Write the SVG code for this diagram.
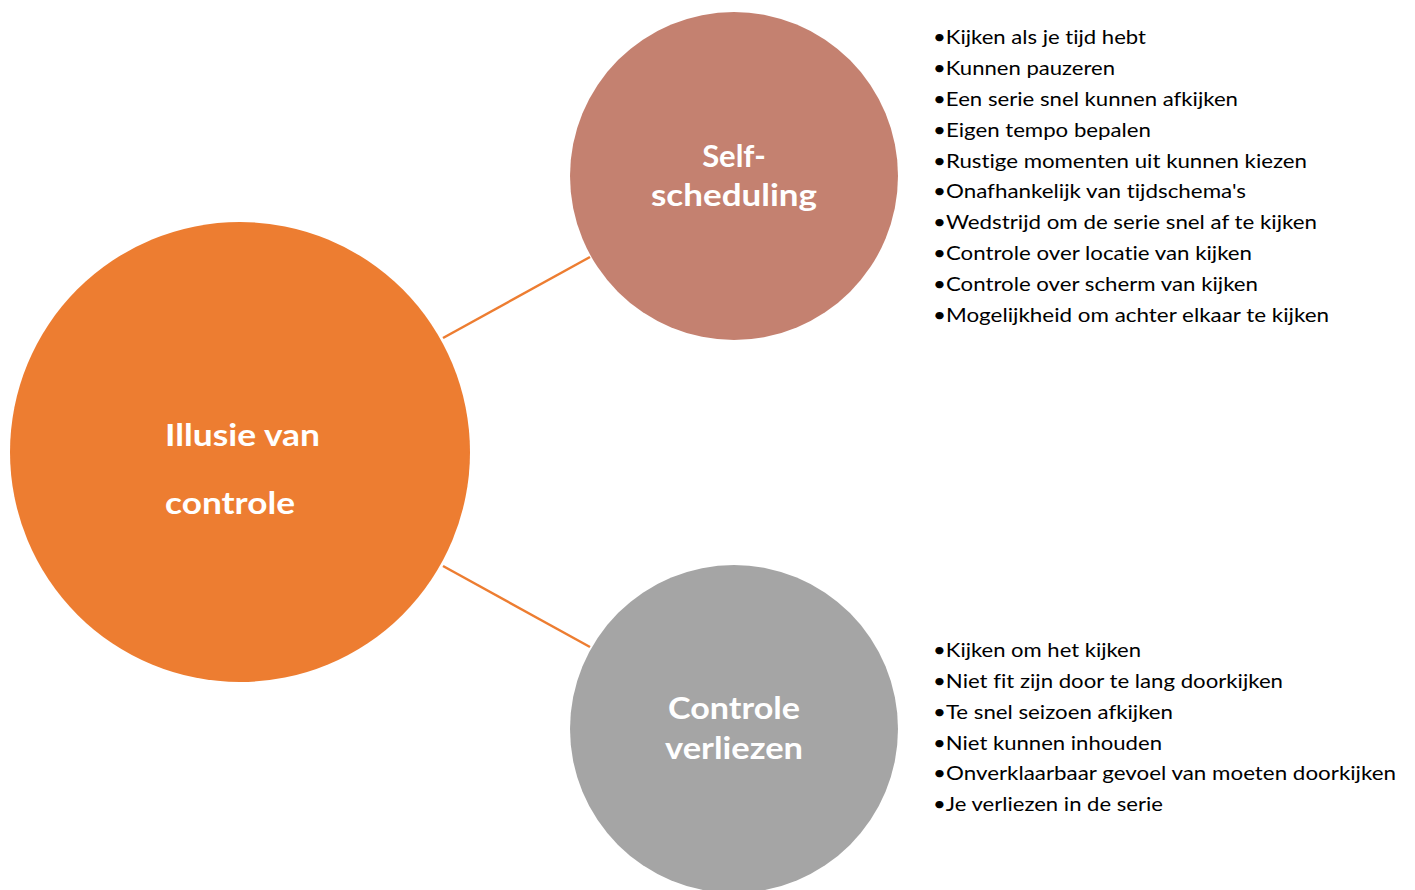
<svg xmlns="http://www.w3.org/2000/svg" width="1415" height="890" viewBox="0 0 1415 890">
<style>
.lbl{font-family:Lato,"Open Sans","Liberation Sans",sans-serif;font-weight:bold;font-size:31px;fill:#ffffff;font-variant-ligatures:none}
.item{font-family:Lato,"Open Sans","Liberation Sans",sans-serif;font-size:20px;fill:#000000;font-variant-ligatures:none}
.conn{stroke:#ED7D31;stroke-width:2.5;fill:none}
</style>
<rect width="1415" height="890" fill="#ffffff"/>
<g id="connectors">
<line class="conn" x1="443" y1="338" x2="590" y2="257"/>
<line class="conn" x1="443" y1="566" x2="590" y2="647"/>
</g>
<g id="node-illusie">
<circle cx="240" cy="452" r="230" fill="#ED7D31"/>
<text class="lbl" x="165" y="446" textLength="155" lengthAdjust="spacingAndGlyphs">Illusie van</text>
<text class="lbl" x="165" y="514" textLength="130" lengthAdjust="spacingAndGlyphs">controle</text>
</g>
<g id="node-self">
<circle cx="734" cy="176" r="164" fill="#C48170"/>
<text class="lbl" x="734" y="167" text-anchor="middle">Self-</text>
<text class="lbl" x="734" y="206" text-anchor="middle" textLength="166" lengthAdjust="spacingAndGlyphs">scheduling</text>
</g>
<g id="node-verliezen">
<circle cx="734" cy="729" r="164" fill="#A5A5A5"/>
<text class="lbl" x="734" y="719" text-anchor="middle" textLength="132" lengthAdjust="spacingAndGlyphs">Controle</text>
<text class="lbl" x="734" y="759" text-anchor="middle" textLength="138" lengthAdjust="spacingAndGlyphs">verliezen</text>
</g>
<g id="list-self">
<text class="item" x="933" y="44" textLength="213" lengthAdjust="spacingAndGlyphs">•Kijken als je tijd hebt</text>
<text class="item" x="933" y="75" textLength="182" lengthAdjust="spacingAndGlyphs">•Kunnen pauzeren</text>
<text class="item" x="933" y="106" textLength="305" lengthAdjust="spacingAndGlyphs">•Een serie snel kunnen afkijken</text>
<text class="item" x="933" y="137" textLength="218" lengthAdjust="spacingAndGlyphs">•Eigen tempo bepalen</text>
<text class="item" x="933" y="168" textLength="374" lengthAdjust="spacingAndGlyphs">•Rustige momenten uit kunnen kiezen</text>
<text class="item" x="933" y="198" textLength="313" lengthAdjust="spacingAndGlyphs">•Onafhankelijk van tijdschema's</text>
<text class="item" x="933" y="229" textLength="384" lengthAdjust="spacingAndGlyphs">•Wedstrijd om de serie snel af te kijken</text>
<text class="item" x="933" y="260" textLength="319" lengthAdjust="spacingAndGlyphs">•Controle over locatie van kijken</text>
<text class="item" x="933" y="291" textLength="325" lengthAdjust="spacingAndGlyphs">•Controle over scherm van kijken</text>
<text class="item" x="933" y="322" textLength="396" lengthAdjust="spacingAndGlyphs">•Mogelijkheid om achter elkaar te kijken</text>
</g>
<g id="list-verliezen">
<text class="item" x="933" y="657" textLength="208" lengthAdjust="spacingAndGlyphs">•Kijken om het kijken</text>
<text class="item" x="933" y="688" textLength="350" lengthAdjust="spacingAndGlyphs">•Niet fit zijn door te lang doorkijken</text>
<text class="item" x="933" y="719" textLength="240" lengthAdjust="spacingAndGlyphs">•Te snel seizoen afkijken</text>
<text class="item" x="933" y="750" textLength="229" lengthAdjust="spacingAndGlyphs">•Niet kunnen inhouden</text>
<text class="item" x="933" y="780" textLength="463" lengthAdjust="spacingAndGlyphs">•Onverklaarbaar gevoel van moeten doorkijken</text>
<text class="item" x="933" y="811" textLength="230" lengthAdjust="spacingAndGlyphs">•Je verliezen in de serie</text>
</g>
</svg>
